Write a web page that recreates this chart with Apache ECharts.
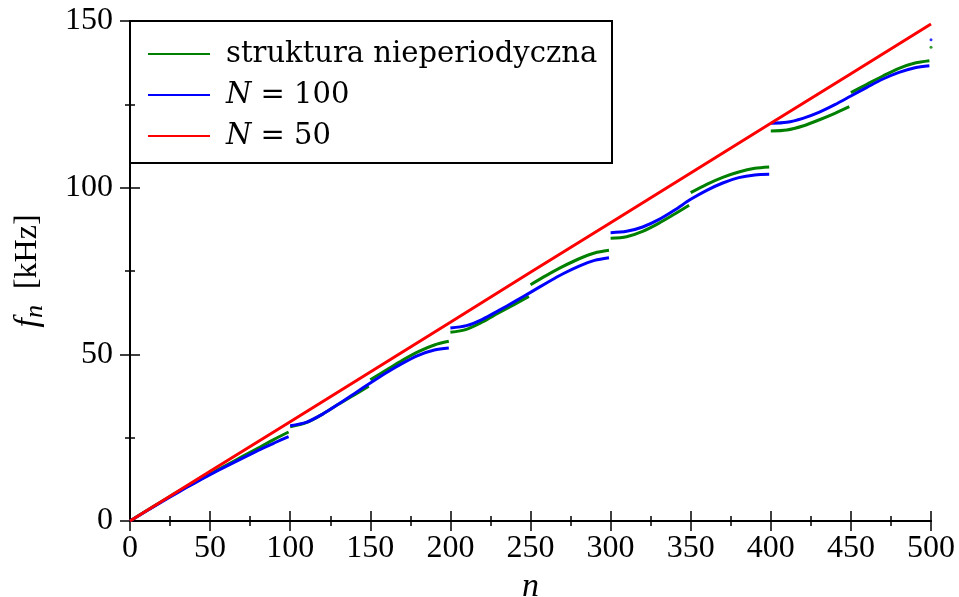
<!DOCTYPE html>
<html>
<head>
<meta charset="utf-8">
<script src="https://cdn.jsdelivr.net/npm/echarts@6/dist/echarts.min.js"></script>
<style>
  html, body { margin: 0; padding: 0; background: #fff; }
  #chart { width: 959px; height: 597px; }
</style>
</head>
<body>
<div id="chart"></div>
<script>
// Eigenfrequencies f_n [kHz] versus mode number n

const nRange = [0, 500];
const fRange = [0, 150];
const nInterval = 50;
const fInterval = 50;

// aperiodic structure: bands of 50 modes
const greenSeg1 = [[0, 0], [10, 3.0], [20, 5.9], [30, 8.8], [40, 11.5], [50, 14.1], [60, 16.7], [70, 19.3], [80, 21.9], [90, 24.5], [99, 26.7]];
const greenSeg2 = [[100, 28.3], [110, 29.5], [120, 32.0], [130, 35.0], [140, 37.8], [149, 40.4]];
const greenSeg3 = [[150, 42.4], [160, 45.3], [170, 48.2], [180, 50.8], [190, 52.8], [199, 53.9]];
const greenSeg4 = [[200, 56.6], [210, 57.5], [220, 59.7], [230, 62.4], [240, 65.0], [249, 67.4]];
const greenSeg5 = [[250, 70.9], [260, 73.7], [270, 76.3], [280, 78.6], [290, 80.4], [299, 81.2]];
const greenSeg6 = [[300, 84.8], [310, 85.3], [320, 86.9], [330, 89.3], [340, 92.1], [349, 94.7]];
const greenSeg7 = [[350, 98.5], [360, 101.0], [370, 103.1], [380, 104.7], [390, 105.8], [399, 106.2]];
const greenSeg8 = [[400, 117.0], [410, 117.3], [420, 118.5], [430, 120.3], [440, 122.3], [449, 124.3]];
const greenSeg9 = [[450, 128.5], [460, 131.0], [470, 133.5], [480, 135.8], [490, 137.4], [499, 138.1]];
const greenLast = [[500, 142.1]];

// periodic structure, N = 100
const blueSeg1 = [[0, 0], [10, 2.9], [20, 5.8], [30, 8.6], [40, 11.3], [50, 13.9], [60, 16.4], [70, 18.8], [80, 21.2], [90, 23.4], [99, 25.3]];
const blueSeg2 = [[100, 28.6], [110, 29.6], [120, 32.0], [130, 35.0], [140, 38.2], [150, 41.4], [160, 44.5], [170, 47.3], [180, 49.7], [190, 51.3], [199, 51.9]];
const blueSeg3 = [[200, 57.9], [210, 58.6], [220, 60.5], [230, 63.1], [240, 65.8], [250, 68.6], [260, 71.4], [270, 74.1], [280, 76.4], [290, 78.2], [299, 79.0]];
const blueSeg4 = [[300, 86.5], [310, 86.9], [320, 88.2], [330, 90.4], [340, 93.3], [350, 96.5], [360, 99.2], [370, 101.4], [380, 103.0], [390, 103.8], [399, 104.0]];
const blueSeg5 = [[400, 119.3], [410, 119.6], [420, 120.8], [430, 122.6], [440, 124.9], [450, 127.5], [460, 130.1], [470, 132.6], [480, 134.6], [490, 136.0], [499, 136.6]];
const blueLast = [[500, 144.4]];

// periodic structure, N = 50
const redLine = [[0, 0], [50, 14.9], [100, 29.8], [150, 44.7], [200, 59.6], [250, 74.6], [300, 89.5], [350, 104.4], [400, 119.3], [450, 134.2], [500, 149.1]];

const seriesNames = ['struktura nieperiodyczna', 'N = 100', 'N = 50'];
const seriesColors = ['#008000', '#0000ff', '#ff0000'];

const groups = [
  { name: seriesNames[0], color: seriesColors[0], smooth: 0.3, segs: [greenSeg1, greenSeg2, greenSeg3, greenSeg4, greenSeg5, greenSeg6, greenSeg7, greenSeg8, greenSeg9], dots: [greenLast] },
  { name: seriesNames[1], color: seriesColors[1], smooth: 0.3, segs: [blueSeg1, blueSeg2, blueSeg3, blueSeg4, blueSeg5], dots: [blueLast] },
  { name: seriesNames[2], color: seriesColors[2], smooth: false, segs: [redLine], dots: [] }
];

const FONT = 'Liberation Serif';
const LEGEND_FONT = 'DejaVu Serif';
const series = [];
groups.forEach(function (g) {
  g.segs.forEach(function (seg) {
    series.push({
      name: g.name, type: 'line', data: seg, smooth: g.smooth,
      showSymbol: false, symbol: 'none', color: g.color,
      lineStyle: { width: 3, color: g.color }, emphasis: { disabled: true }, animation: false
    });
  });
  g.dots.forEach(function (d) {
    series.push({
      name: g.name, type: 'scatter', data: d, symbol: 'circle', symbolSize: 3,
      itemStyle: { color: g.color }, emphasis: { disabled: true }, animation: false
    });
  });
});

function axisBase(extra) {
  return Object.assign({
    type: 'value',
    axisLine: { show: true, lineStyle: { color: '#000', width: 2 } },
    axisTick: { show: true, inside: true, length: 10, lineStyle: { color: '#000', width: 1.5 } },
    minorTick: { show: true, splitNumber: 2, length: 5, lineStyle: { color: '#000', width: 1.5 } },
    splitLine: { show: false },
    axisLabel: { show: false }
  }, extra);
}

const labelStyle = { show: true, color: '#000', fontFamily: FONT, fontSize: 32 };

const chart = echarts.init(document.getElementById('chart'), null, { renderer: 'canvas' });
chart.setOption({
  backgroundColor: '#fff',
  animation: false,
  grid: { left: 130, right: 28, top: 21, bottom: 76, containLabel: false, outerBoundsMode: 'none' },
  xAxis: [
    axisBase({
      position: 'bottom', min: nRange[0], max: nRange[1], interval: nInterval,
      axisLabel: Object.assign({ margin: 12 }, labelStyle),
      name: 'n', nameLocation: 'middle', nameGap: 44,
      nameTextStyle: { color: '#000', fontFamily: FONT, fontSize: 34, fontStyle: 'italic' }
    }),
    axisBase({ position: 'top', min: nRange[0], max: nRange[1], interval: nInterval })
  ],
  yAxis: [
    axisBase({
      position: 'left', min: fRange[0], max: fRange[1], interval: fInterval,
      axisLabel: Object.assign({ margin: 17 }, labelStyle),
      name: '{i|f}{s|n} [kHz]', nameLocation: 'middle', nameGap: 82, nameRotate: 90,
      nameTextStyle: {
        color: '#000', fontFamily: FONT, fontSize: 32,
        rich: {
          i: { fontFamily: FONT, fontSize: 34, fontStyle: 'italic', color: '#000' },
          s: { fontFamily: FONT, fontSize: 26, fontStyle: 'italic', color: '#000', padding: [14, 8, 0, 0] }
        }
      }
    }),
    axisBase({ position: 'right', min: fRange[0], max: fRange[1], interval: fInterval })
  ],
  legend: {
    data: seriesNames,
    orient: 'vertical', left: 143, top: 34,
    icon: 'rect', itemWidth: 62, itemHeight: 2, itemGap: 11,
    formatter: function (name) {
      return name.indexOf('N = ') === 0 ? '{it|N} = ' + name.slice(4) : name;
    },
    textStyle: {
      color: '#000', fontFamily: LEGEND_FONT, fontSize: 29, lineHeight: 30, padding: [0, 0, 0, 11],
      rich: { it: { fontFamily: LEGEND_FONT, fontSize: 29, fontStyle: 'italic', color: '#000' } }
    },
    selectedMode: false
  },
  graphic: [{
    type: 'rect', z: 0,
    shape: { x: 130, y: 21, width: 482, height: 142 },
    style: { fill: '#fff', stroke: '#000', lineWidth: 2 }
  }],
  series: series
});
</script>
</body>
</html>
